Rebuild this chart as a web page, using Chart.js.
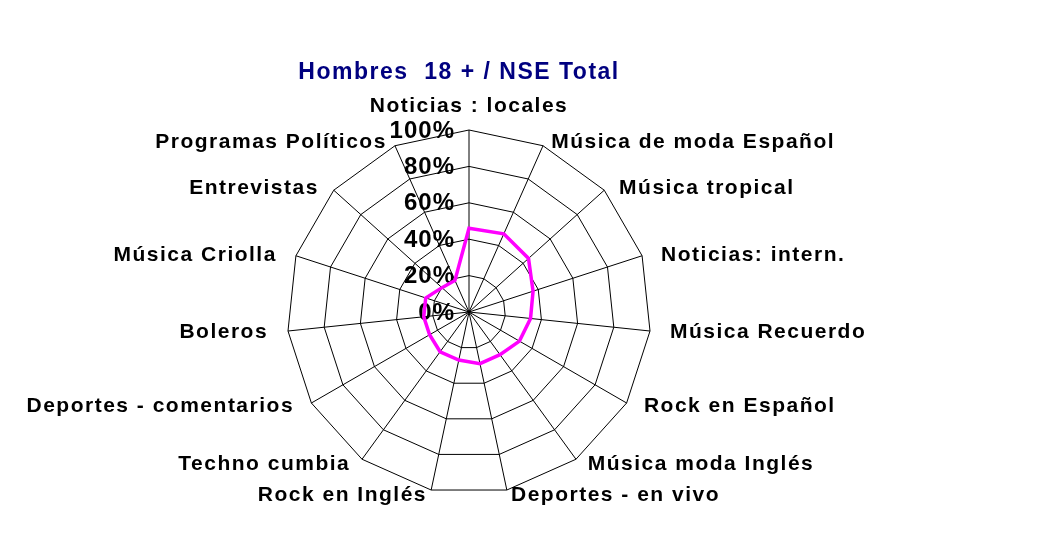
<!DOCTYPE html>
<html>
<head>
<meta charset="utf-8">
<script src="https://cdn.jsdelivr.net/npm/chart.js@4.4.1/dist/chart.umd.min.js"></script>
<style>
  html, body { margin: 0; padding: 0; background: #ffffff; }
  #wrap { width: 1056px; height: 554px; position: relative; }
</style>
</head>
<body>
<div id="wrap"><canvas id="c"></canvas></div>
<script>
const titleText = 'Hombres  18 + / NSE Total';
const categories = [
  'Noticias : locales',
  'Música de moda Español',
  'Música tropical',
  'Noticias: intern.',
  'Música Recuerdo',
  'Rock en Español',
  'Música moda Inglés',
  'Deportes - en vivo',
  'Rock en Inglés',
  'Techno cumbia',
  'Deportes - comentarios',
  'Boleros',
  'Música Criolla',
  'Entrevistas',
  'Programas Políticos'
];
const seriesValues = [46, 47, 44, 37, 34, 32, 29, 29, 27, 27, 25, 25, 25, 20, 19];
const tickValues = [0, 20, 40, 60, 80, 100];
const tickLabels = ['0%', '20%', '40%', '60%', '80%', '100%'];

const textPlugin = {
  id: 'textPlugin',
  beforeDatasetsDraw(chart) {
    const ctx = chart.ctx;
    const s = chart.scales.r;
    ctx.save();
    try { ctx.letterSpacing = '1px'; } catch (e) {}
    ctx.fillStyle = '#000000';
    ctx.font = 'bold 24px "Liberation Sans", Arial, sans-serif';
    ctx.textAlign = 'right';
    ctx.textBaseline = 'middle';
    tickValues.forEach((v, i) => {
      const d = s.getDistanceFromCenterForValue(v);
      ctx.fillText(tickLabels[i], s.xCenter - 14, s.yCenter - d + 1);
    });
    ctx.restore();
  },
  afterDraw(chart) {
    const ctx = chart.ctx;
    const s = chart.scales.r;
    const R = s.drawingArea;
    const n = categories.length;
    ctx.save();
    try { ctx.letterSpacing = '1.5px'; } catch (e) {}
    ctx.fillStyle = '#000000';
    ctx.font = 'bold 21px "Liberation Sans", Arial, sans-serif';
    ctx.textBaseline = 'middle';
    for (let i = 0; i < n; i++) {
      const p = s.getPointPosition(i, R);
      const a = (i / n) * Math.PI * 2;
      const sn = Math.sin(a), cs = Math.cos(a);
      let x = p.x + 20 * sn;
      let y = p.y - 4.5 * cs;
      if (Math.abs(sn) < 0.05) {
        ctx.textAlign = 'center';
        y = p.y - 25;
      } else {
        ctx.textAlign = sn > 0 ? 'left' : 'right';
      }
      ctx.fillText(categories[i], x, y + 1);
    }
    try { ctx.letterSpacing = '1.5px'; } catch (e) {}
    ctx.fillStyle = '#000080';
    ctx.font = 'bold 23px "Liberation Sans", Arial, sans-serif';
    ctx.textAlign = 'center';
    ctx.fillText(titleText, 459, 73);
    ctx.restore();
  }
};

const bgPlugin = {
  id: 'bg',
  beforeDraw(chart) {
    const ctx = chart.ctx;
    ctx.save();
    ctx.fillStyle = '#ffffff';
    ctx.fillRect(0, 0, chart.width, chart.height);
    ctx.restore();
  }
};

new Chart(document.getElementById('c'), {
  type: 'radar',
  data: {
    labels: categories,
    datasets: [{
      label: titleText,
      data: seriesValues,
      borderColor: '#ff00ff',
      borderWidth: 3.5,
      backgroundColor: 'rgba(0,0,0,0)',
      fill: false,
      pointRadius: 0,
      pointHoverRadius: 0,
      tension: 0
    }]
  },
  options: {
    responsive: true,
    maintainAspectRatio: false,
    animation: false,
    events: [],
    layout: { padding: { left: 287, right: 405, top: 130, bottom: 60 } },
    plugins: {
      legend: { display: false },
      title: { display: false },
      tooltip: { enabled: false }
    },
    scales: {
      r: {
        min: 0,
        max: 100,
        ticks: { stepSize: 20, display: false },
        pointLabels: { display: false },
        grid: { color: '#000000', lineWidth: 1, circular: false },
        angleLines: { color: '#000000', lineWidth: 1 }
      }
    }
  },
  plugins: [bgPlugin, textPlugin]
});
</script>
</body>
</html>
